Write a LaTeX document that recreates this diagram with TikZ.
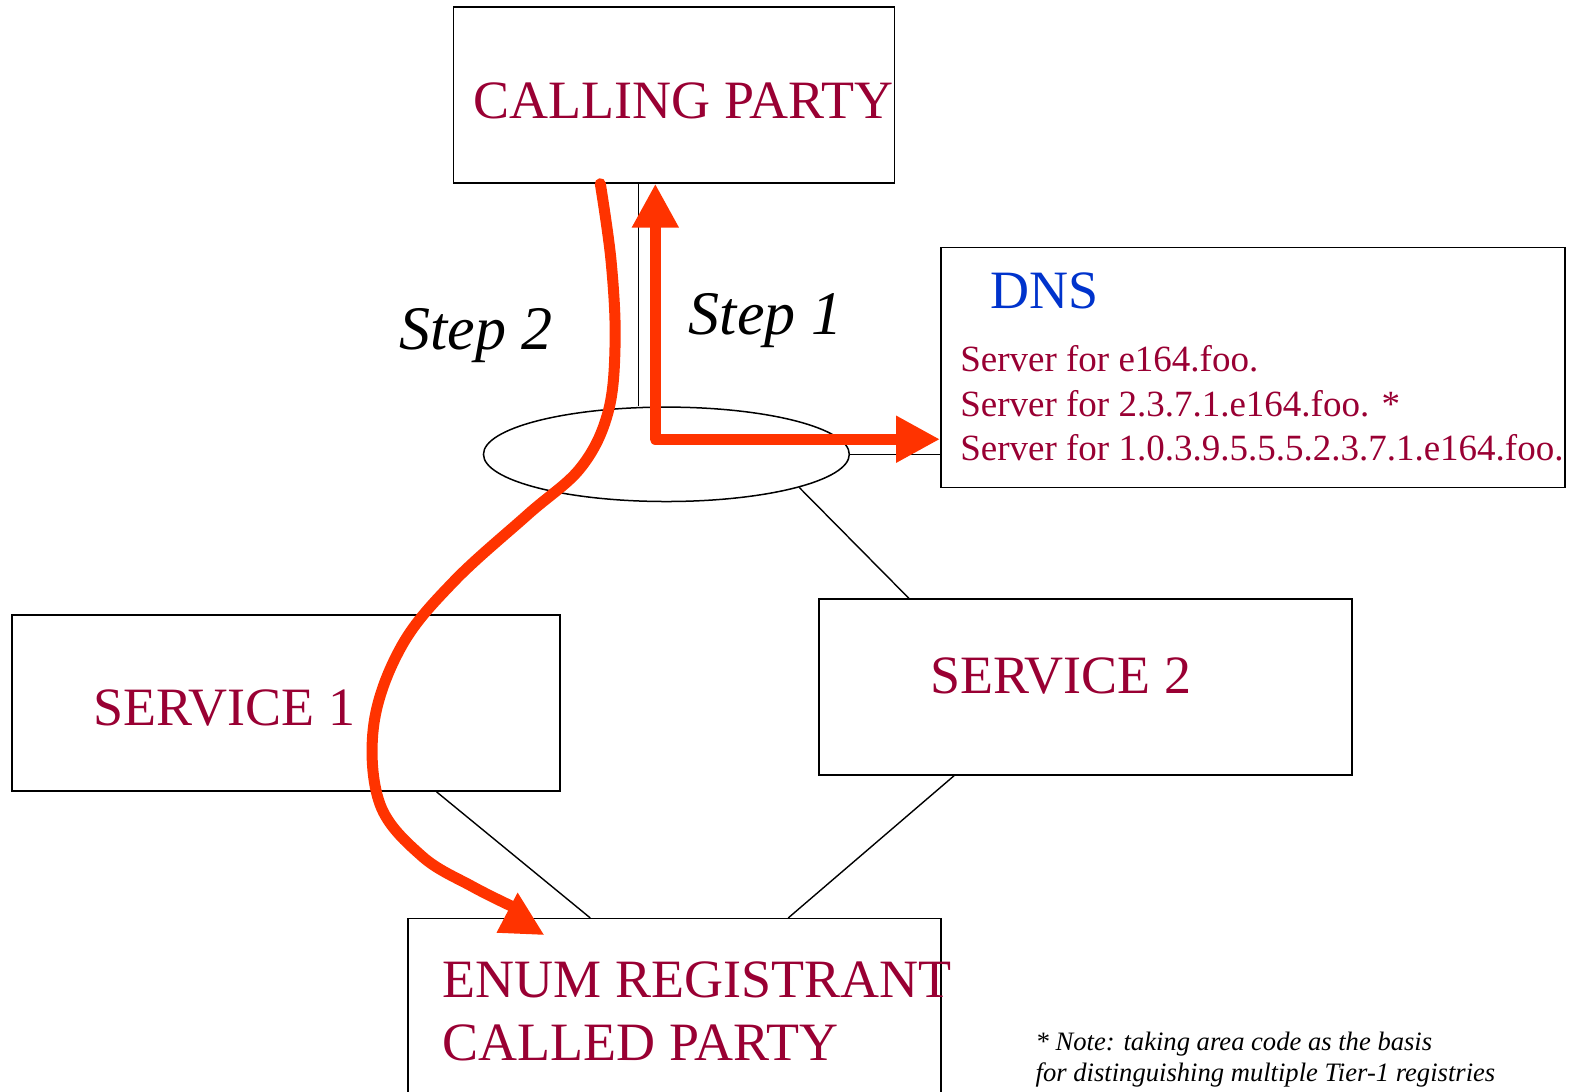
\documentclass[tikz,border=0pt]{standalone}
\usepackage{fontspec}
\setmainfont{Liberation Serif}
\usetikzlibrary{shapes.geometric,arrows.meta,fit,calc}
\definecolor{labelred}{HTML}{990033}
\definecolor{dnsblue}{HTML}{0033CC}
\definecolor{flowred}{HTML}{FF3300}
\tikzset{
  box/.style={draw, line width=0.75pt, inner sep=0pt},
  hub/.style={draw, ellipse, line width=0.75pt, inner sep=0pt,
    minimum width=182.9pt, minimum height=47.2pt},
  link/.style={draw, line width=0.7pt},
  boxtext/.style={text=labelred, font=\fontsize{27}{31}\selectfont, inner sep=0pt, anchor=base west},
  servertext/.style={text=labelred, font=\fontsize{18.5}{22}\selectfont, inner sep=0pt, anchor=base west},
  steptext/.style={font=\fontsize{31}{36}\selectfont\itshape, inner sep=0pt, anchor=base west},
  notetext/.style={font=\fontsize{13.3}{15.5}\selectfont\itshape, inner sep=0pt, anchor=base west},
  flow/.style={draw=flowred, line width=5.5pt, line cap=round, line join=round},
  bigtip/.tip={Triangle[length=22pt,width=22pt]}
}
\begin{document}
\begin{tikzpicture}[x=0.5025pt, y=-0.5025pt]
  \clip (0,0) rectangle (1568,1086);
  % boxes
  \node[box, fit={(451,7) (890,182)}] (calling) {};
  \node[box, fit={(936,246) (1557,485)}] (dns) {};
  \node[box, fit={(12,612) (557,787)}] (svcone) {};
  \node[box, fit={(815,596) (1345,771)}] (svctwo) {};
  \node[box, fit={(406,914) (936,1100)}] (enum) {};
  \node[hub] (hub) at (663,452) {};
  % labels
  \node[boxtext] (callingtext) at (471,118) {CALLING PARTY};
  \node[boxtext, text=dnsblue] (dnstext) at (985,307) {DNS};
  \foreach \zone/\y [count=\i] in {e164.foo./370, 2.3.7.1.e164.foo. */414, 1.0.3.9.5.5.5.2.3.7.1.e164.foo./458}
    \node[servertext] (server\i) at (955,\y) {Server for \zone};
  \node[boxtext] (svconetext) at (93,722) {SERVICE 1};
  \node[boxtext] (svctwotext) at (925,690) {SERVICE 2};
  \node[boxtext] (enumtext) at (440,992) {ENUM REGISTRANT};
  \node[boxtext] (calledtext) at (440,1055) {CALLED PARTY};
  \node[steptext] (steptwo) at (397,348) {Step 2};
  \node[steptext] (stepone) at (685,333) {Step 1};
  \node[notetext] (noteone) at (1030,1045) {* Note: taking area code as the basis};
  \node[notetext] (notetwo) at (1030,1076) {for distinguishing multiple Tier-1 registries};
  % connections
  \coordinate (drop) at ($(calling.south west)+(185,0)$);
  \draw[link] (drop) -- (drop |- hub.north);
  \draw[link] (hub.east) -- (hub.east -| dns.west);
  \draw[link] (hub.198) -- ($(svcone.north west)+(408,0)$);
  \draw[link] (hub.346.5) -- ($(svctwo.north west)+(90,0)$);
  \draw[link] ($(svcone.south west)+(423,0)$) -- ($(enum.north west)+(182,0)$);
  \draw[link] ($(svctwo.south west)+(135,0)$) -- ($(enum.north west)+(379,0)$);
  % step 1
  \coordinate (turn) at (652,437);
  \draw[flow, bigtip-bigtip] (calling.south -| turn) -- (turn) -- (turn -| dns.west);
  % step 2
  \coordinate (leave) at ($(calling.south west)+(147,0)$);
  \draw[flow] plot[smooth, tension=0.6] coordinates {(leave) (608,260) (612,340) (605,410)
    (578,465) (525,512) (452,578) (400,642) (372,720) (378,800) (420,852) (470,882) (512,903)};
  \fill[flowred] (515,888) -- (494,928) -- (541,930) -- cycle;
\end{tikzpicture}
\end{document}
